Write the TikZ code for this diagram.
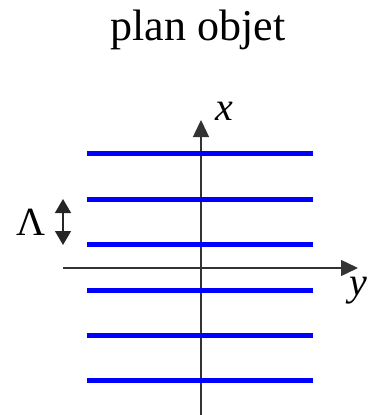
\documentclass[tikz,border=0pt]{standalone}
\usepackage{fontspec}
\setmainfont{Liberation Serif}
\usetikzlibrary{arrows.meta}

\begin{document}
\begin{tikzpicture}[
  x=1pt, y=-1pt,
  every node/.style={font=\fontsize{40}{44}\selectfont, inner sep=0pt},
  axis/.style={line width=1.4pt, draw=black!80, -{Triangle[length=17pt,width=16pt]}},
  fringe/.style={line width=5pt, draw=blue},
  period/.style={line width=1.4pt, draw=black!85,
    {Triangle[length=14pt,width=16pt]}-{Triangle[length=14pt,width=16pt]}},
]
\useasboundingbox (0,0) rectangle (370,415);

% Title
\node[font=\fontsize{44}{48}\selectfont] (title) at (198,30) {plan objet};

% Axes
\coordinate (xbot) at (201,415);
\coordinate (xtop) at (201,120);
\coordinate (yleft) at (63,268);
\coordinate (yright) at (358,268);
\draw[axis] (xbot) -- (xtop);
\draw[axis] (yleft) -- (yright);
\node (xlab) at (224,111) {\itshape x};
\node (ylab) at (358,291) {\itshape y};

% Fringes
\draw[fringe] (87,153) -- (313,153);
\draw[fringe] (87,199) -- (313,199);
\draw[fringe] (87,244) -- (313,244);
\draw[fringe] (87,290) -- (313,290);
\draw[fringe] (87,335) -- (313,335);
\draw[fringe] (87,380) -- (313,380);

% Period
\coordinate (ptop) at (63,199);
\coordinate (pbot) at (63,245);
\draw[period] (ptop) -- (pbot);
\node (lambda) at (31,222) {Λ};

\end{tikzpicture}
\end{document}
